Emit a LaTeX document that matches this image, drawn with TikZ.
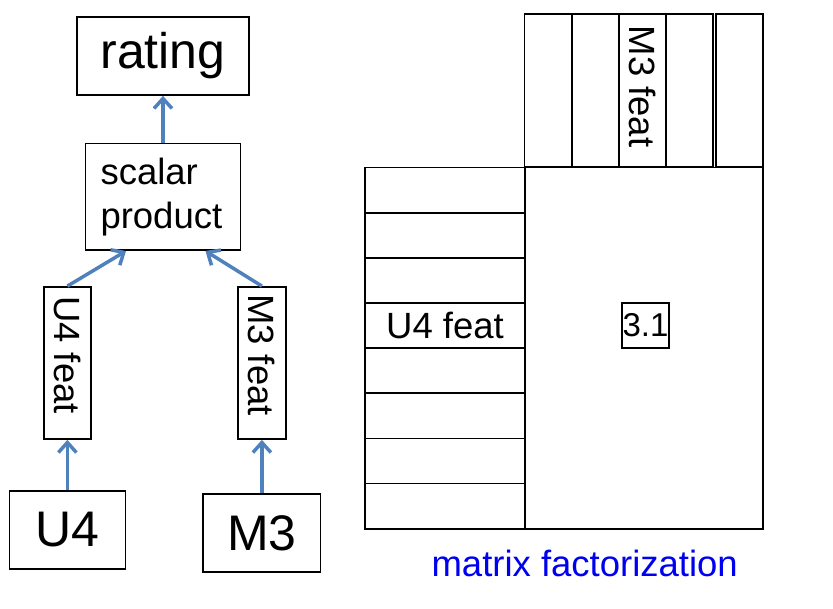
\documentclass[tikz,border=0pt]{standalone}
\usepackage{fontspec}
\setmainfont{Liberation Sans}
\usepackage{xcolor}
\usepackage{graphicx}
\usetikzlibrary{arrows.meta, positioning}

\definecolor{arrowblue}{HTML}{4F81BD}
\definecolor{capblue}{HTML}{0000F0}
\newcommand{\vlabel}[1]{\rotatebox{-90}{#1}}

\begin{document}
\begin{tikzpicture}[x=1pt, y=-1pt,
    box/.style={rectangle, draw=black, line width=1.8pt, inner sep=0pt},
    bigbox/.style={box, minimum height=78pt, font=\fontsize{50}{60}\selectfont},
    featbox/.style={box, minimum width=47.5pt, minimum height=152pt, font=\fontsize{36.5}{44}\selectfont},
    label/.style={font=\fontsize{36.5}{44}\selectfont},
    arrow/.style={-{Straight Barb[length=10pt, width=18pt]}, line width=3.5pt, draw=arrowblue}]

    \useasboundingbox (0,0) rectangle (833,609);

    % model side
    \node[bigbox, minimum width=172.6pt] (rating) at (163,56) {rating};
    \node[box, label, align=left, text width=125pt, inner xsep=15pt, minimum height=106.6pt, below=46.7pt of rating] (scalar) {scalar\\product};
    \node[featbox] (ufeat) at (67.4,363) {\vlabel{U4 feat\hspace{16pt}}};
    \node[featbox, minimum width=48.3pt] (mfeat) at (261.9,363) {\vlabel{M3 feat\hspace{16pt}}};
    \node[bigbox, minimum width=116pt, below=50pt of ufeat] (user) {U4};
    \node[bigbox, minimum width=117.3pt, below=53pt of mfeat] (movie) {M3};

    \draw[arrow] (scalar) -- (rating);
    \draw[arrow] (ufeat.north) -- ([xshift=-37pt]scalar.south);
    \draw[arrow] (mfeat.north) -- ([xshift=42.5pt]scalar.south);
    \draw[arrow] (user) -- (ufeat);
    \draw[arrow] (movie) -- (mfeat);

    % matrix side
    \node[box, minimum width=238pt, minimum height=361.2pt] (ratings) at (644,348.1) {};
    \foreach \i in {0,...,7}
        \node[box, minimum width=160pt, minimum height=45.15pt] (row\i) at (445,190.1+45.15*\i) {};
    \foreach \j in {0,...,3}
        \node[box, minimum width=47.2pt, minimum height=153pt] (col\j) at (548.1+47.2*\j,90.5) {};
    \node[box, minimum width=47pt, minimum height=153pt] (col4) at (739.5,90.5) {};

    \node[label] (ufeatrow) at (row3) {U4 feat};
    \node[label] (mfeatcol) at ([yshift=4pt]col2) {\vlabel{M3 feat}};
    \node[box, minimum width=47pt, minimum height=45pt, font=\fontsize{33}{40}\selectfont] (entry) at (645.5,325.5) {3.1};

    \node[label, text=capblue, anchor=base] (caption) at (584.7,576.7) {matrix factorization};
\end{tikzpicture}
\end{document}
